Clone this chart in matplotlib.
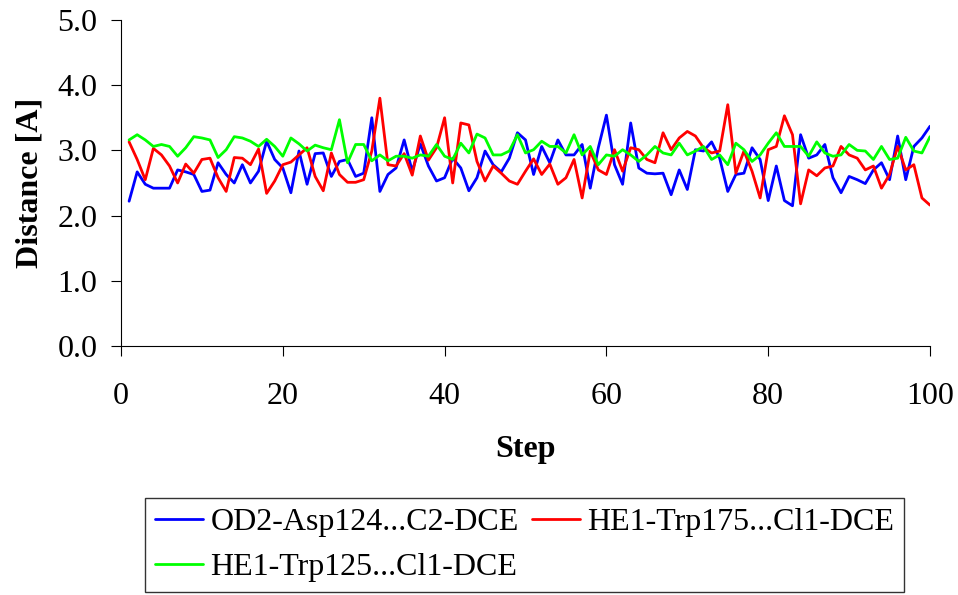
import numpy as np
import matplotlib
matplotlib.use("Agg")
import matplotlib.pyplot as plt

plt.rcParams['font.family'] = ['Liberation Serif', 'DejaVu Serif']

steps = np.arange(1, 101)

# OD2-Asp124...C2-DCE
od2 = [2.22, 2.67, 2.48, 2.42, 2.42, 2.42, 2.70, 2.67, 2.63, 2.37,
       2.39, 2.81, 2.63, 2.50, 2.78, 2.50, 2.68, 3.14, 2.86, 2.73,
       2.35, 2.99, 2.48, 2.95, 2.96, 2.60, 2.83, 2.86, 2.60, 2.65,
       3.50, 2.37, 2.63, 2.73, 3.16, 2.68, 3.10, 2.76, 2.53, 2.58,
       2.88, 2.73, 2.38, 2.58, 2.99, 2.78, 2.67, 2.88, 3.27, 3.16,
       2.63, 3.06, 2.81, 3.16, 2.93, 2.93, 3.09, 2.42, 3.04, 3.54,
       2.78, 2.48, 3.42, 2.73, 2.65, 2.64, 2.65, 2.32, 2.70, 2.40,
       3.01, 2.99, 3.13, 2.88, 2.37, 2.63, 2.65, 3.04, 2.86, 2.23,
       2.76, 2.23, 2.15, 3.24, 2.88, 2.93, 3.09, 2.58, 2.35, 2.60,
       2.55, 2.49, 2.70, 2.81, 2.55, 3.22, 2.55, 3.06, 3.19, 3.37]

# HE1-Trp175...Cl1-DCE
he175 = [3.13, 2.86, 2.55, 3.03, 2.93, 2.76, 2.50, 2.79, 2.65, 2.86,
         2.88, 2.58, 2.37, 2.89, 2.88, 2.78, 3.02, 2.34, 2.53, 2.78,
         2.82, 2.93, 3.04, 2.60, 2.38, 2.96, 2.63, 2.51, 2.51, 2.55,
         2.99, 3.80, 2.78, 2.76, 2.95, 2.62, 3.22, 2.85, 3.04, 3.50,
         2.50, 3.42, 3.39, 2.83, 2.53, 2.76, 2.65, 2.53, 2.48, 2.68,
         2.87, 2.63, 2.79, 2.48, 2.58, 2.86, 2.27, 2.99, 2.70, 2.63,
         3.01, 2.68, 3.04, 3.01, 2.86, 2.81, 3.27, 3.01, 3.19, 3.29,
         3.22, 3.04, 2.96, 2.99, 3.70, 2.65, 2.99, 2.68, 2.27, 3.01,
         3.06, 3.53, 3.24, 2.18, 2.70, 2.61, 2.73, 2.76, 3.06, 2.93,
         2.88, 2.70, 2.76, 2.42, 2.63, 3.06, 2.70, 2.78, 2.27, 2.16]

# HE1-Trp125...Cl1-DCE
he125 = [3.16, 3.24, 3.16, 3.06, 3.09, 3.06, 2.91, 3.04, 3.21, 3.19,
         3.16, 2.89, 3.01, 3.21, 3.19, 3.14, 3.06, 3.17, 3.06, 2.91,
         3.19, 3.10, 2.99, 3.08, 3.04, 3.01, 3.47, 2.81, 3.09, 3.09,
         2.84, 2.93, 2.84, 2.91, 2.91, 2.88, 2.93, 2.91, 3.09, 2.91,
         2.86, 3.11, 2.96, 3.25, 3.19, 2.93, 2.93, 2.99, 3.24, 2.96,
         3.01, 3.14, 3.06, 3.06, 2.96, 3.24, 2.93, 3.06, 2.78, 2.93,
         2.91, 3.01, 2.93, 2.83, 2.93, 3.06, 2.96, 2.93, 3.11, 2.93,
         2.99, 3.06, 2.86, 2.93, 2.78, 3.11, 3.01, 2.83, 2.93, 3.11,
         3.27, 3.06, 3.06, 3.06, 2.91, 3.13, 2.96, 2.91, 2.93, 3.09,
         3.00, 2.99, 2.86, 3.06, 2.86, 2.88, 3.20, 2.99, 2.96, 3.21]

labels = ['OD2-Asp124...C2-DCE', 'HE1-Trp175...Cl1-DCE', 'HE1-Trp125...Cl1-DCE']
colors = ['#0000ff', '#ff0000', '#00ff00']

fig = plt.figure(figsize=(9.58, 5.95), dpi=100)
ax = fig.add_axes([0.1263, 0.4185, 0.8445, 0.548])

lines = []
for y, c, lab in zip([od2, he175, he125], colors, labels):
    l, = ax.plot(steps, y, color=c, lw=2.0, label=lab,
                 solid_joinstyle='round', solid_capstyle='round')
    lines.append(l)

ax.set_xlim(0, 100)
ax.set_ylim(0, 5)
ax.set_xticks(np.arange(0, 101, 20))
ax.set_yticks(np.arange(0, 5.1, 1.0))
ax.set_yticklabels(['%.1f' % v for v in np.arange(0, 5.1, 1.0)])
ax.tick_params(labelsize=23, direction='out', length=7, width=0.8)
ax.tick_params(axis='x', pad=19)
ax.tick_params(axis='y', pad=10)
for s in ['top', 'right']:
    ax.spines[s].set_visible(False)
for s in ['left', 'bottom']:
    ax.spines[s].set_linewidth(0.8)

ax.set_xlabel('Step', fontsize=23, fontweight='bold', labelpad=17)
ax.set_ylabel('Distance [A]', fontsize=23, fontweight='bold', labelpad=9)

# legend fills column-wise, so order gives rows: blue | red, green
leg = fig.legend(handles=[lines[0], lines[2], lines[1]], loc='upper left', ncol=2,
                 bbox_to_anchor=(0.1514, 0.163), fontsize=23,
                 frameon=True, fancybox=False, edgecolor='black',
                 handlelength=1.5, handletextpad=0.25, columnspacing=0.4,
                 labelspacing=0.5, borderpad=0.3, borderaxespad=0)
leg.get_frame().set_linewidth(1.0)

fig.savefig('out.png', dpi=100)
